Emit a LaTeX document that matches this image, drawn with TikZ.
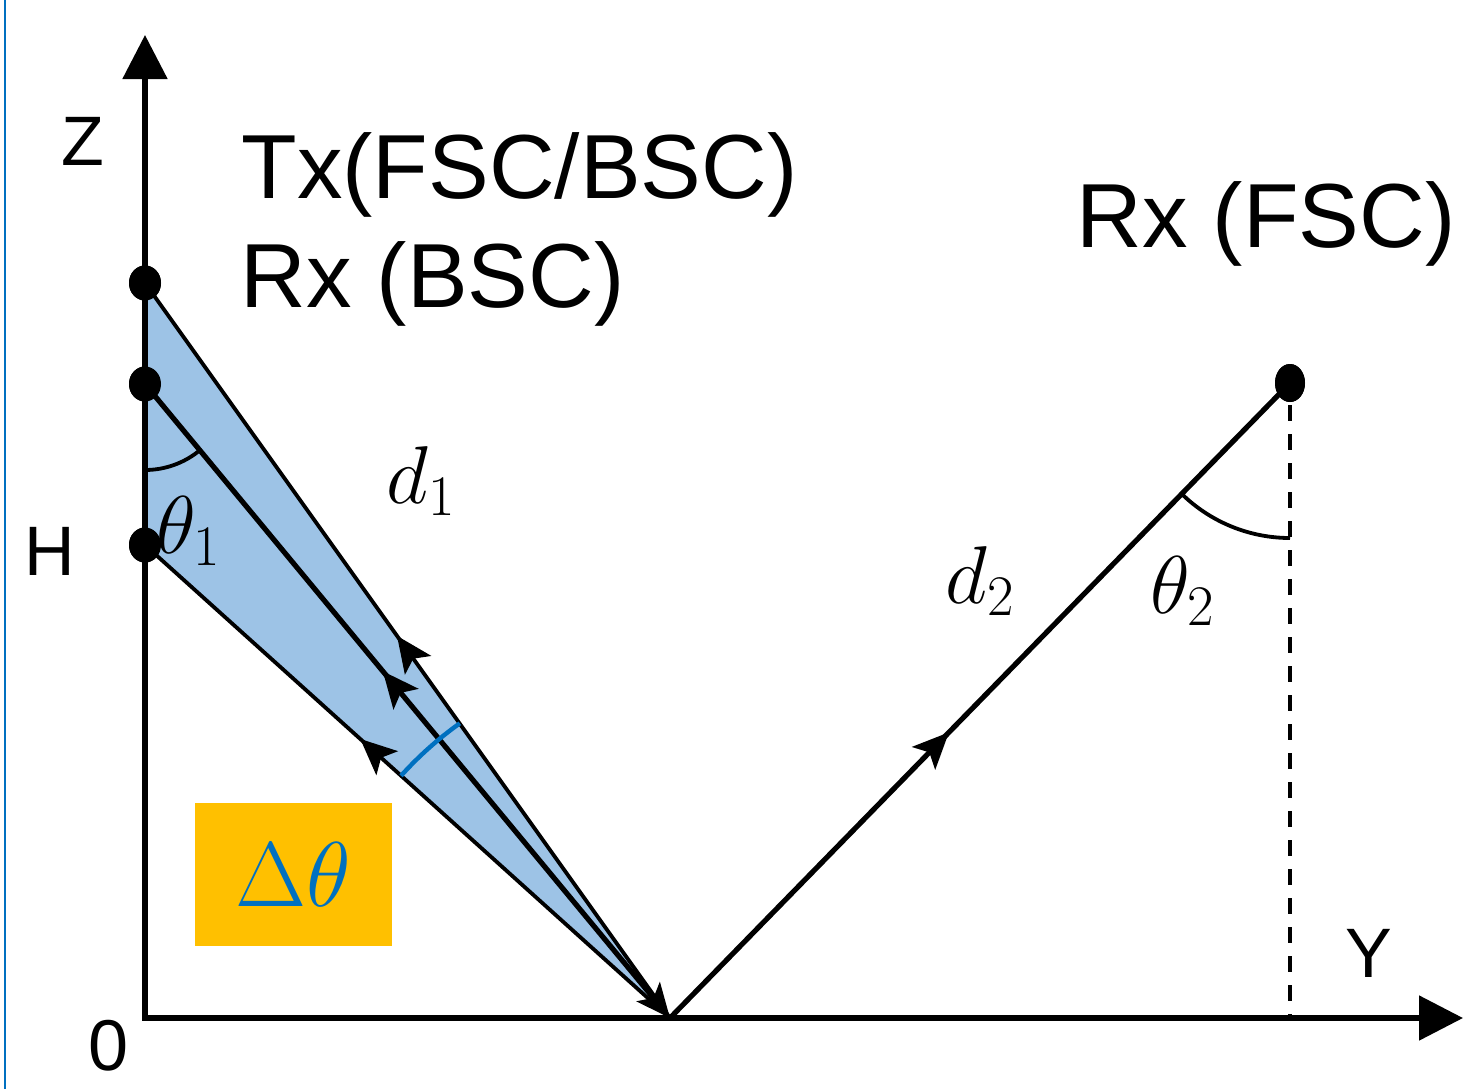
\RequirePackage{fix-cm}
\documentclass[tikz,border=0pt]{standalone}
\usepackage{fontspec}
\setmainfont{Liberation Sans}
\usetikzlibrary{arrows.meta,decorations.markings,shapes.geometric}
\definecolor{beam}{HTML}{9DC3E6}
\definecolor{arcblue}{HTML}{0070C0}
\definecolor{boxorange}{HTML}{FFC000}
\tikzset{
  dot/.style={ellipse, fill=black, inner sep=0pt, minimum width=16pt, minimum height=17.5pt},
  axisline/.style={line width=2.6pt, {Triangle[length=22pt,width=22pt]}-{Triangle[length=22pt,width=22pt]}},
  ray/.style={line width=2.6pt},
  edgeline/.style={line width=1.9pt},
  anglearc/.style={line width=1.9pt},
  lbl/.style={inner sep=0pt, anchor=base west, font=\fontsize{45.5}{50}\selectfont},
  axlbl/.style={inner sep=0pt, anchor=base west, font=\fontsize{35}{40}\selectfont},
  mlbl/.style={inner sep=0pt, anchor=base west, font=\fontsize{41}{46}\selectfont},
  midarrow/.style={postaction={decorate}, decoration={markings, mark=at position #1 with {\arrow{Stealth[length=18pt,width=16pt,inset=4pt]}}}}
}
\begin{document}
\begin{tikzpicture}[x=0.5pt,y=-0.5pt]
\useasboundingbox (0,0) rectangle (1468,1089);
% left frame edge
\draw[arcblue, line width=1pt] (5,0) -- (5,1089);
% points
\coordinate (O) at (145,1018);
\coordinate (R) at (670,1018);
\coordinate (Ztop) at (145,35);
\coordinate (Yend) at (1463,1018);
\node[dot] (T1) at (145,283) {};
\node[dot] (T2) at (145,384) {};
\node[dot] (H) at (145,545) {};
\node[dot, minimum width=15pt, minimum height=19pt] (RxF) at (1290,383) {};
% beam
\fill[beam] (T1.center) -- (R) -- (H.center) -- cycle;
% axes
\draw[axisline] (Ztop) -- (O) -- (Yend);
% rays
\draw[edgeline, midarrow=0.52] (R) -- (T1.center);
\draw[edgeline, midarrow=0.59] (R) -- (H.center);
\draw[ray, midarrow=0.547, {Stealth[length=17pt,width=15pt,inset=4pt]}-] (R) -- (T2.center);
\draw[ray, midarrow=0.45] (R) -- (RxF.center);
\draw[line width=1.6pt, dash pattern=on 8pt off 6.5pt] (1290,405) -- (RxF |- O);
% angle arcs
\draw[anglearc] (T2.center) ++(90:86) arc[start angle=90, end angle=50.4, radius=86];
\draw[anglearc] (RxF.center) ++(90:155) arc[start angle=90, end angle=134.3, radius=155];
\draw[arcblue, line width=2.2pt] (R) ++(-138.0:362) arc[start angle=-138.0, end angle=-125.5, radius=362];
% redraw dots on top
\fill (T1) ellipse[x radius=16, y radius=17.5];
\fill (T2) ellipse[x radius=16, y radius=17.5];
\fill (H) ellipse[x radius=16, y radius=17.5];
\fill (RxF) ellipse[x radius=15, y radius=19];
% delta theta box
\node[fill=boxorange, minimum width=98.5pt, minimum height=71.5pt, inner sep=0pt,
      font=\fontsize{46}{50}\selectfont, text=arcblue] (dt) at (293.5,874.5) {$\Delta\theta$};
% labels
\node[lbl] (tx) at (241,198) {Tx(FSC/BSC)};
\node[lbl] (rxb) at (240,307) {Rx (BSC)};
\node[lbl] (rxf) at (1076,247) {Rx (FSC)};
\node[axlbl] (zl) at (61,165) {Z};
\node[axlbl] (hl) at (24,575) {H};
\node[axlbl] (yl) at (1345,977) {Y};
\node[inner sep=0pt, anchor=base west, font=\fontsize{36}{40}\selectfont] (zero) at (88,1070) {0};
\node[mlbl] (d1) at (386,503) {$d_1$};
\node[mlbl] (d2) at (945,603) {$d_2$};
\node[mlbl] (th1) at (156,553) {$\theta_1$};
\node[mlbl] (th2) at (1150,613) {$\theta_2$};
\end{tikzpicture}
\end{document}
